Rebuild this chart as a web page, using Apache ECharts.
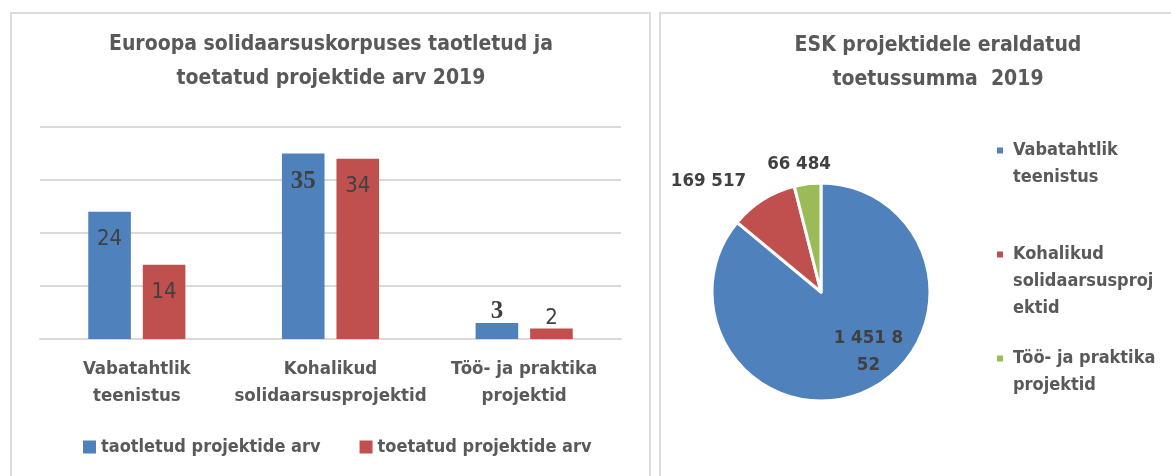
<!DOCTYPE html>
<html>
<head>
<meta charset="utf-8">
<script src="https://cdn.jsdelivr.net/npm/echarts@6/dist/echarts.min.js"></script>
<style>
html, body { margin: 0; padding: 0; background: #fff; }
#main { position: absolute; left: 0; top: 0; width: 1171px; height: 476px; }
.panel { position: absolute; border: 2px solid #dcdcdc; box-sizing: border-box; }
</style>
</head>
<body>
<div class="panel" style="left:10px;top:12px;width:641px;height:490px"></div>
<div class="panel" style="left:659px;top:12px;width:530px;height:490px"></div>
<div id="main"></div>
<script>
// tulpdiagramm
var barCategories = ['Vabatahtlik\nteenistus', 'Kohalikud\nsolidaarsusprojektid', 'Töö- ja praktika\nprojektid'];
var seriesNames = ['taotletud projektide arv', 'toetatud projektide arv'];
var taotletud = [24, 35, 3];
var toetatud = [14, 34, 2];
var yTicks = [0, 10, 20, 30, 40];

// sektordiagramm
var pieNames = ['Vabatahtlik teenistus', 'Kohalikud solidaarsusprojektid', 'Töö- ja praktika projektid'];
var pieLegendText = ['Vabatahtlik\nteenistus', 'Kohalikud\nsolidaarsusproj\nektid', 'Töö- ja praktika\nprojektid'];
var toetussumma = [1451852, 169517, 66484];

var FONT = "'DejaVu Sans Condensed', 'Liberation Sans', sans-serif";
var SERIF = "'Liberation Serif', 'DejaVu Serif', serif";
var labelPos = ['insideTop', 'insideTop', 'top'];
var serifBlue = [false, true, true]; // originaalis 35 ja 3 teise kirjaga
var pieLabelDx = [23, 0, 31];
var pieLabelDy = [8, 0, 2];

function fmt(v) {
  return String(v).replace(/\B(?=(\d{3})+(?!\d))/g, ' ');
}

function barData(values, serif) {
  return values.map(function (v, i) {
    var lab = { position: labelPos[i], distance: labelPos[i] === 'top' ? -1 : 16 };
    if (serif && serif[i]) {
      lab.fontFamily = SERIF;
      lab.fontWeight = 'bold';
      lab.fontSize = 25;
    }
    return { value: v, label: lab };
  });
}

// legendi ikoon esimese rea kõrgusele: tühjad read ette
function legendLabel(name) {
  var txt = pieLegendText[pieNames.indexOf(name)];
  var n = txt.split('\n').length;
  return new Array(n).join('\n') + txt;
}

var chart = echarts.init(document.getElementById('main'));
chart.setOption({
  animation: false,
  textStyle: { fontFamily: FONT },
  color: ['#4f81bd', '#c0504d', '#9bbb59'],
  title: [
    {
      text: 'Euroopa solidaarsuskorpuses taotletud ja\ntoetatud projektide arv 2019',
      left: 331, top: 28, padding: 0, textAlign: 'center',
      textStyle: { fontFamily: FONT, fontSize: 21, fontWeight: 'bold', color: '#595959', lineHeight: 34 }
    },
    {
      text: 'ESK projektidele eraldatud\ntoetussumma  2019',
      left: 938, top: 29, padding: 0, textAlign: 'center',
      textStyle: { fontFamily: FONT, fontSize: 21, fontWeight: 'bold', color: '#595959', lineHeight: 34 }
    }
  ],
  legend: [
    {
      data: seriesNames,
      left: 83, top: 435, padding: 0,
      itemWidth: 13, itemHeight: 13, itemGap: 39,
      icon: 'rect', selectedMode: false,
      textStyle: { fontFamily: FONT, fontSize: 18, fontWeight: 'bold', color: '#595959', lineHeight: 24 }
    },
    {
      data: pieNames,
      orient: 'vertical',
      left: 995, top: 110, padding: 0,
      itemWidth: 8, itemHeight: 8, itemGap: -4,
      icon: 'rect', selectedMode: false,
      formatter: legendLabel,
      textStyle: { fontFamily: FONT, fontSize: 18, fontWeight: 'bold', color: '#595959', lineHeight: 27, padding: [0, 0, 0, 4] }
    }
  ],
  grid: { left: 40, right: 1171 - 621, top: 127, bottom: 476 - 339 },
  xAxis: {
    type: 'category',
    data: barCategories,
    axisLine: { lineStyle: { color: '#d9d9d9', width: 2 } },
    axisTick: { show: false },
    axisLabel: { interval: 0, margin: 17, fontFamily: FONT, fontSize: 18.5, fontWeight: 'bold', color: '#595959', lineHeight: 27 }
  },
  yAxis: {
    type: 'value',
    min: yTicks[0], max: yTicks[yTicks.length - 1], interval: yTicks[1] - yTicks[0],
    axisLabel: { show: false },
    axisLine: { show: false },
    axisTick: { show: false },
    splitLine: { lineStyle: { color: '#d9d9d9', width: 2 } }
  },
  series: [
    {
      name: seriesNames[0], type: 'bar',
      data: barData(taotletud, serifBlue),
      barWidth: '22%', barGap: '28%',
      label: { show: true, fontFamily: FONT, fontSize: 22, color: '#404040' }
    },
    {
      name: seriesNames[1], type: 'bar',
      data: barData(toetatud),
      barWidth: '22%', barGap: '28%',
      label: { show: true, fontFamily: FONT, fontSize: 22, color: '#404040' }
    },
    {
      type: 'pie',
      center: [821, 292], radius: 109,
      startAngle: 90, clockwise: true,
      avoidLabelOverlap: false,
      itemStyle: { borderColor: '#fff', borderWidth: 3 },
      emphasis: { disabled: true },
      label: {
        show: true, fontFamily: FONT, fontSize: 18.5, fontWeight: 'bold', color: '#404040', lineHeight: 27,
        formatter: function (p) {
          var s = fmt(p.value);
          if (p.dataIndex === 0) return s.slice(0, 7) + '\n' + s.slice(7);
          return s;
        }
      },
      labelLine: { show: false, length: 22, length2: 0 },
      labelLayout: function (p) {
        return { dx: pieLabelDx[p.dataIndex], dy: pieLabelDy[p.dataIndex] };
      },
      data: pieNames.map(function (n, i) {
        return { name: n, value: toetussumma[i], label: { position: i === 0 ? 'inside' : 'outside' } };
      })
    }
  ]
});
</script>
</body>
</html>
